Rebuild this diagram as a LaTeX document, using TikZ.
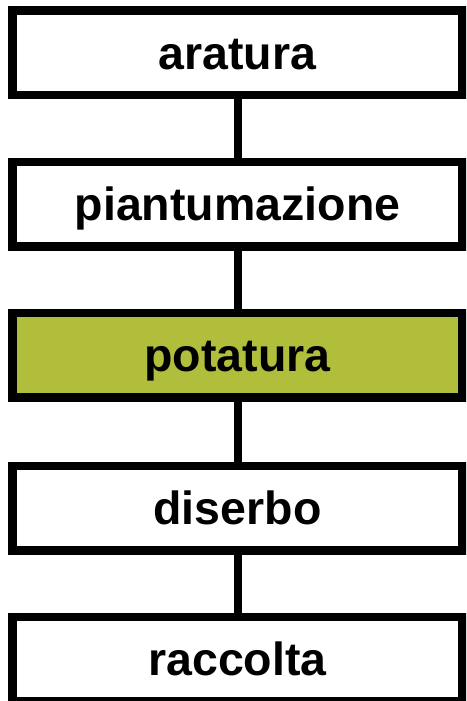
\documentclass[tikz,border=0pt]{standalone}
\usepackage{fontspec}
\setmainfont{Liberation Sans}
\definecolor{oliva}{RGB}{176,190,60}
\begin{document}
\begin{tikzpicture}[x=1pt,y=1pt,
  stepbox/.style={draw=black, line width=8.5pt, fill=white, minimum width=450pt, minimum height=84.5pt, inner sep=0pt,
    font=\fontsize{46.5}{50}\selectfont\bfseries, text height=33pt, text depth=0pt},
  link/.style={line width=8pt, draw=black}]
\path[use as bounding box] (0,0) rectangle (466,-701);
\clip (0,0) rectangle (466,-701);
\node[stepbox] (a) at (237.5,-52.75) {aratura};
\node[stepbox] (b) at (237.5,-204) {piantumazione};
\node[stepbox, fill=oliva] (c) at (237.5,-355) {potatura};
\node[stepbox] (d) at (237.5,-508) {diserbo};
\node[stepbox] (e) at (237.5,-659.25) {raccolta};
\draw[link] (a.south) -- (b.north);
\draw[link] (b.south) -- (c.north);
\draw[link] (c.south) -- (d.north);
\draw[link] (d.south) -- (e.north);
\end{tikzpicture}
\end{document}
